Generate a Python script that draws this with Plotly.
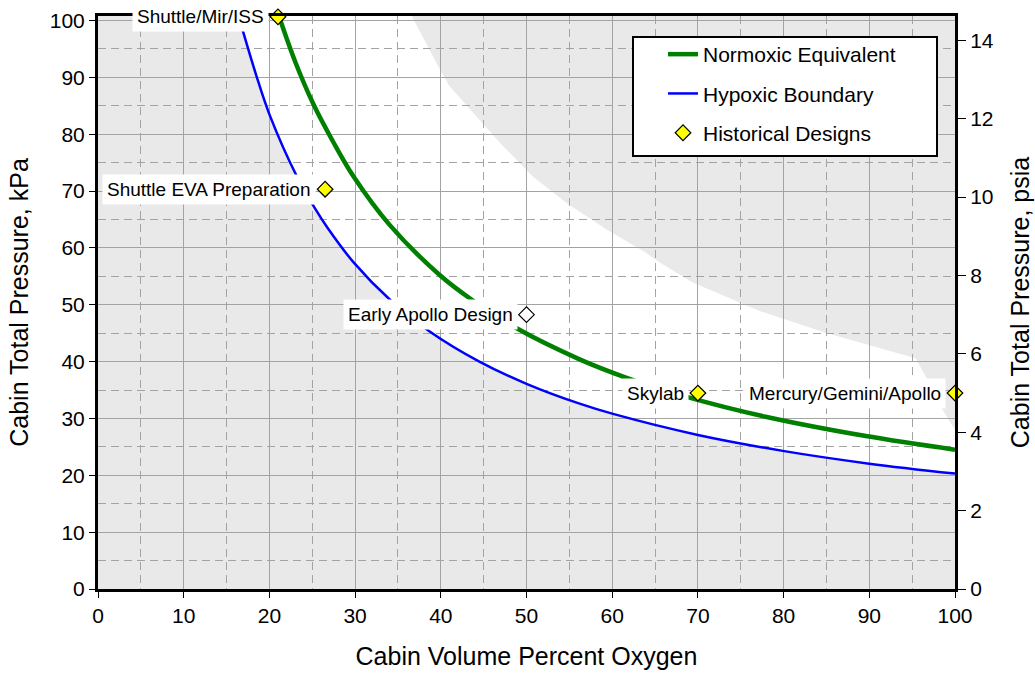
import plotly.graph_objects as go

KPA_PER_PSI = 6.894757

# ---- data ----
# Normoxic equivalent curve (cabin % O2, total pressure kPa)
normoxic_pct = [21.0, 23.0, 25.1, 27.5, 29.8, 34.0, 39.9, 43.7, 48.8, 56.2, 61.6, 68.8, 77.9, 89.6, 100.0]
normoxic_kpa = [101.3, 92.8, 85.4, 78.5, 72.6, 64.1, 55.2, 50.8, 45.9, 40.4, 37.2, 33.75, 30.3, 26.9, 24.5]

# Hypoxic boundary curve
hypoxic_pct = [16.3, 17.0, 18.5, 20.0, 23.2, 25.3, 26.8, 29.8, 34.2, 38.7, 44.5, 50.0, 56.2, 60.1, 70.0, 79.9, 90.0, 100.0]
hypoxic_kpa = [101.4, 97.7, 90.2, 83.5, 72.6, 67.0, 63.5, 57.5, 50.7, 45.3, 40.0, 36.1, 32.6, 30.8, 27.1, 24.3, 22.05, 20.3]

# Upper edge of the acceptable (white) zone
upper_pct = [36.4, 39.9, 41.0, 46.9, 50.7, 54.6, 59.3, 63.9, 65.5, 69.4, 77.2, 84.9, 95.4, 97.0, 98.5, 100.0]
upper_kpa = [101.4, 91.4, 88.5, 78.5, 72.6, 68.0, 63.3, 59.2, 57.5, 53.9, 48.9, 45.1, 40.6, 36.3, 31.6, 28.0]

# Historical designs
design_names = ["Shuttle/Mir/ISS", "Shuttle EVA Preparation", "Early Apollo Design", "Skylab", "Mercury/Gemini/Apollo"]
design_pct = [21.0, 26.5, 50.0, 70.0, 100.0]
design_psia = [14.6, 10.2, 7.0, 5.0, 5.0]
design_kpa = [p * KPA_PER_PSI for p in design_psia]
design_fill = ["#FFFF00", "#FFFF00", "#FFFFFF", "#FFFF00", "#FFFF00"]

Y_MAX_KPA = 100.8

FONT = "Arial, Liberation Sans, sans-serif"

# plot area in page pixels (for legend frame placement)
PL, PR, PT, PB = 98, 955, 16, 589
PW, PH = PR - PL, PB - PT

fig = go.Figure()

# acceptable zone drawn in white beneath the gridlines
zone_x = hypoxic_pct + upper_pct[::-1]
zone_y = hypoxic_kpa + upper_kpa[::-1]
zone_path = "M " + " L ".join(f"{x},{y}" for x, y in zip(zone_x, zone_y)) + " Z"
fig.add_shape(type="path", path=zone_path, xref="x", yref="y",
              fillcolor="white", line=dict(width=0), layer="below")

# legend frame
fig.add_shape(type="rect", xref="paper", yref="paper",
              x0=(633 - PL) / PW, x1=(937 - PL) / PW,
              y0=(PB - 156) / PH, y1=(PB - 37) / PH,
              fillcolor="white", line=dict(color="black", width=2), layer="above")

fig.add_trace(go.Scatter(x=normoxic_pct, y=normoxic_kpa, mode="lines",
                         name="Normoxic Equivalent", legendgroup="a",
                         line=dict(color="#008000", width=4.5, shape="spline", smoothing=1)))
fig.add_trace(go.Scatter(x=hypoxic_pct, y=hypoxic_kpa, mode="lines",
                         name="Hypoxic Boundary", legendgroup="b",
                         line=dict(color="#0000FF", width=2.5, shape="spline", smoothing=1)))
fig.add_trace(go.Scatter(x=design_pct, y=design_kpa, mode="markers",
                         name="Historical Designs", legendgroup="c", cliponaxis=False,
                         marker=dict(symbol="diamond", size=12, color=design_fill,
                                     line=dict(color="black", width=1.2))))
# secondary axis carrier
fig.add_trace(go.Scatter(x=[0, 100], y=[0, 0], yaxis="y2", mode="none",
                         showlegend=False, hoverinfo="skip"))

for name, xp, yp in zip(design_names, design_pct, design_kpa):
    fig.add_annotation(x=xp, y=yp, xref="x", yref="y", text=name, showarrow=False,
                       xanchor="right", yanchor="middle", xshift=-9,
                       bgcolor="white", borderpad=4,
                       font=dict(family=FONT, size=19, color="black"))

grid_c = "#a3a3a3"
axis_common = dict(showline=True, linecolor="black", linewidth=3, automargin=False,
                   ticks="outside", tickcolor="black", tickwidth=1, zeroline=False,
                   tickfont=dict(size=21))

fig.update_layout(
    width=1035, height=673,
    margin=dict(l=PL, r=1035 - PR, t=PT, b=673 - PB),
    paper_bgcolor="white", plot_bgcolor="#e9e9e9",
    font=dict(family=FONT, size=21, color="black"),
    showlegend=True,
    xaxis=dict(range=[0, 100], tick0=0, dtick=10, ticklen=6, mirror=True,
               showgrid=True, gridcolor=grid_c, gridwidth=1, ticklabelstandoff=0,
               minor=dict(dtick=5, showgrid=True, gridcolor=grid_c, griddash="8px,5px", gridwidth=1),
               title=dict(text="Cabin Volume Percent Oxygen", font=dict(size=25), standoff=22),
               **axis_common),
    yaxis=dict(range=[0, Y_MAX_KPA], tick0=0, dtick=10, ticklen=6, mirror=True,
               showgrid=True, gridcolor=grid_c, gridwidth=1,
               minor=dict(dtick=5, showgrid=True, gridcolor=grid_c, griddash="8px,5px", gridwidth=1),
               title=dict(text="Cabin Total Pressure, kPa", font=dict(size=25), standoff=15),
               **axis_common),
    yaxis2=dict(range=[0, Y_MAX_KPA / KPA_PER_PSI], tick0=0, dtick=2, ticklen=8,
                overlaying="y", side="right", showgrid=False,
                title=dict(text="Cabin Total Pressure, psia", font=dict(size=25), standoff=19),
                **axis_common),
    legend=dict(x=(663 - PL) / PW, y=(PB - 34) / PH, xanchor="left", yanchor="top",
                bgcolor="rgba(0,0,0,0)", borderwidth=0, traceorder="grouped",
                tracegroupgap=9, font=dict(family=FONT, size=21)),
)

fig.write_html("out.html", config={"displayModeBar": False},
               post_script="document.body.style.margin='0px';")
